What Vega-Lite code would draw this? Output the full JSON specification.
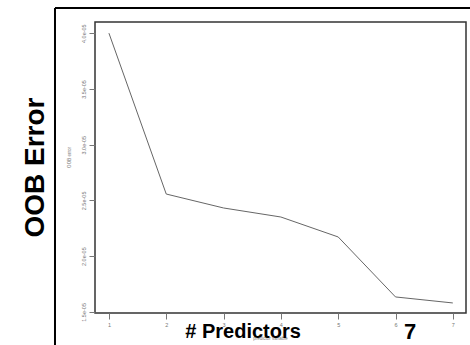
{
  "$schema": "https://vega.github.io/schema/vega-lite/v6.json",
  "autosize": {"type": "none"},
  "width": 371,
  "height": 291,
  "padding": {"left": 95, "top": 22, "right": 4, "bottom": 32},
  "background": "white",
  "config": {
    "view": {"stroke": "#333", "strokeWidth": 1.5},
    "font": "Liberation Sans"
  },
  "layer": [
    {
      "data": {"values": [
        {"predictors": 1, "oob": 4.0e-5},
        {"predictors": 2, "oob": 2.557e-5},
        {"predictors": 3, "oob": 2.432e-5},
        {"predictors": 4, "oob": 2.351e-5},
        {"predictors": 5, "oob": 2.172e-5},
        {"predictors": 6, "oob": 1.634e-5},
        {"predictors": 7, "oob": 1.58e-5}
      ]},
      "mark": {"type": "line", "color": "#666", "strokeWidth": 1},
      "encoding": {
        "x": {
          "field": "predictors", "type": "quantitative",
          "scale": {"domain": [0.757, 7.23], "nice": false, "zero": false},
          "axis": {
            "values": [1, 2, 3, 4, 5, 6, 7], "format": "d", "grid": false, "domain": false,
            "tickSize": 6, "tickColor": "#777", "labelFontSize": 5.5, "labelColor": "#777",
            "labelPadding": 3, "title": "predictor variable", "titleFontSize": 4.5,
            "titleFontWeight": "normal", "titleColor": "#777", "titlePadding": 8, "titleX": 175
          }
        },
        "y": {
          "field": "oob", "type": "quantitative",
          "scale": {"domain": [1.49e-5, 4.10e-5], "nice": false, "zero": false},
          "axis": {
            "values": [1.5e-5, 2.0e-5, 2.5e-5, 3.0e-5, 3.5e-5, 4.0e-5], "grid": false, "domain": false,
            "tickSize": 6, "tickColor": "#777", "labelFontSize": 5.5, "labelColor": "#777",
            "labelExpr": "replace(format(datum.value, '.1e'), 'e-', 'e-0')",
            "labelAngle": -90, "labelAlign": "center", "labelBaseline": "bottom", "labelPadding": 3,
            "title": "OOB error", "titleFontSize": 4.5, "titleFontWeight": "normal", "titleColor": "#777",
            "titlePadding": 10, "titleY": 135
          }
        }
      }
    },
    {
      "data": {"values": [{}]},
      "mark": {"type": "rule", "color": "black", "strokeWidth": 2},
      "encoding": {
        "x": {"datum": 0.059, "type": "quantitative"},
        "x2": {"datum": 9},
        "y": {"datum": 4.2256e-5, "type": "quantitative"}
      }
    },
    {
      "data": {"values": [{}]},
      "mark": {"type": "rule", "color": "black", "strokeWidth": 2},
      "encoding": {
        "x": {"datum": 0.059, "type": "quantitative"},
        "y": {"datum": 4.2256e-5, "type": "quantitative"},
        "y2": {"datum": 0.5e-5}
      }
    },
    {
      "data": {"values": [{}]},
      "mark": {"type": "text", "text": "OOB Error", "angle": -90, "fontSize": 28, "fontWeight": "bold", "font": "Liberation Sans", "color": "black", "align": "center", "baseline": "middle"},
      "encoding": {
        "x": {"datum": -0.273, "type": "quantitative"},
        "y": {"datum": 2.795e-5, "type": "quantitative"}
      }
    },
    {
      "data": {"values": [{}]},
      "mark": {"type": "text", "text": "# Predictors", "fontSize": 20, "fontWeight": "bold", "font": "Liberation Sans", "color": "black", "align": "center", "baseline": "alphabetic"},
      "encoding": {
        "x": {"datum": 3.34, "type": "quantitative"},
        "y": {"datum": 1.266e-5, "type": "quantitative"}
      }
    },
    {
      "data": {"values": [{}]},
      "mark": {"type": "text", "text": "7", "fontSize": 22, "fontWeight": "bold", "font": "Liberation Sans", "color": "black", "align": "center", "baseline": "alphabetic"},
      "encoding": {
        "x": {"datum": 6.254, "type": "quantitative"},
        "y": {"datum": 1.257e-5, "type": "quantitative"}
      }
    }
  ]
}
